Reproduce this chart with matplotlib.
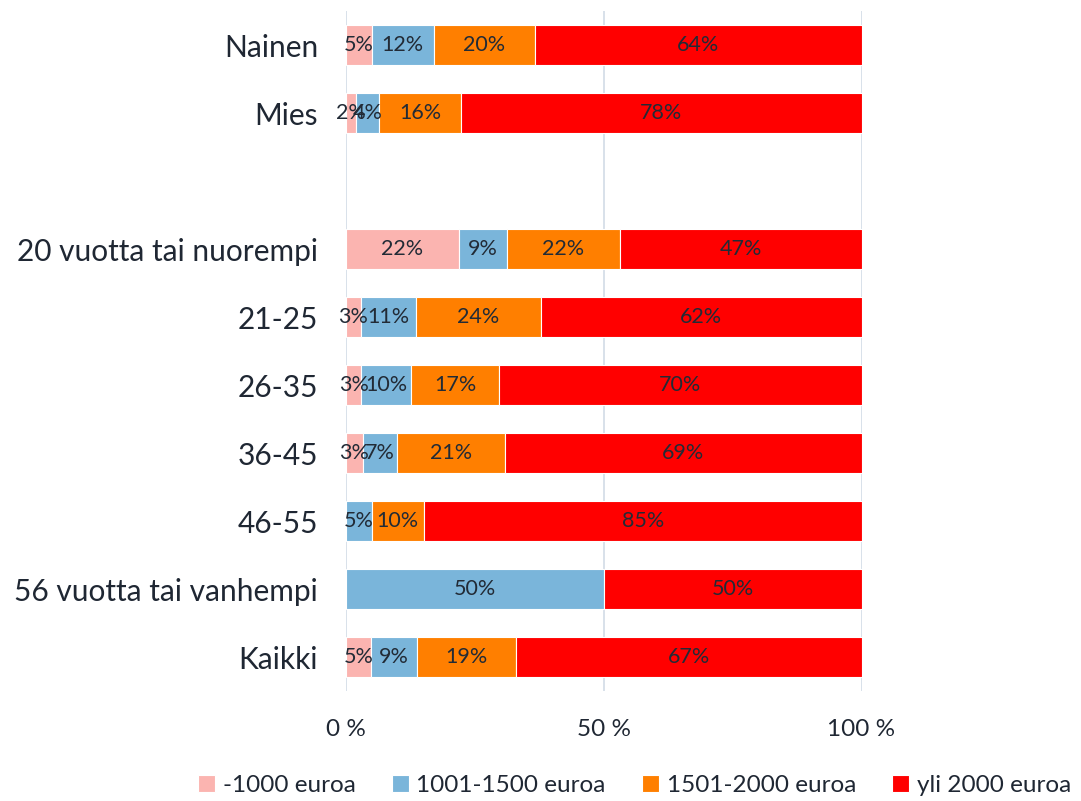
import matplotlib
matplotlib.use("Agg")
from matplotlib import pyplot as plt
import numpy as np

plt.rcParams['font.family'] = ['Lato', 'DejaVu Sans']

categories = ["Nainen", "Mies", "", "20 vuotta tai nuorempi", "21-25", "26-35",
              "36-45", "46-55", "56 vuotta tai vanhempi", "Kaikki"]
series = ["-1000 euroa", "1001-1500 euroa", "1501-2000 euroa", "yli 2000 euroa"]
colors = ["#fbb4b0", "#7ab5da", "#ff7f00", "#ff0000"]

# osuudet (%)
v_1000 = [5.0, 2.0, 0, 21.9, 2.9, 3.0, 3.3, 0, 0, 4.8]
v_1500 = [12.0, 4.4, 0, 9.3, 10.7, 9.7, 6.6, 5.0, 50.0, 9.0]
v_2000 = [19.6, 15.9, 0, 21.9, 24.2, 16.9, 20.9, 10.1, 0, 19.1]
v_yli = [63.4, 77.7, 0, 46.9, 62.2, 70.4, 69.2, 84.9, 50.0, 67.1]
labels = [
    ["5%", "2%", "", "22%", "3%", "3%", "3%", "", "", "5%"],
    ["12%", "4%", "", "9%", "11%", "10%", "7%", "5%", "50%", "9%"],
    ["20%", "16%", "", "22%", "24%", "17%", "21%", "10%", "", "19%"],
    ["64%", "78%", "", "47%", "62%", "70%", "69%", "85%", "50%", "67%"],
]

data = [v_1000, v_1500, v_2000, v_yli]

fig = plt.figure(figsize=(10.81, 8.01), dpi=100)
ax = fig.add_axes([0.320, 0.137, 0.477, 0.849])

y = np.arange(len(categories))
left = np.zeros(len(categories))
for vals, lab, col, name in zip(data, labels, colors, series):
    vals = np.array(vals)
    lw = [0.8 if v > 0 else 0 for v in vals]
    bars = ax.barh(y, vals, left=left, height=0.59, color=col, label=name,
                   edgecolor="white", linewidth=lw, zorder=3)
    for b, t in zip(bars, lab):
        if t:
            ax.text(b.get_x() + b.get_width() / 2, b.get_y() + b.get_height() / 2, t,
                    ha="center", va="center", fontsize=15.5, color="#222b36", zorder=4)
    left += vals

ax.set_xlim(0, 100)
ax.set_ylim(len(categories) - 0.5, -0.5)
ax.set_yticks(y)
ax.set_yticklabels(categories, fontsize=21.5, color="#1f2733")
ax.set_xticks([0, 50, 100])
ax.set_xticklabels(["0 %", "50 %", "100 %"], fontsize=17.5, color="#1f2733")
ax.tick_params(axis="both", length=0)
ax.tick_params(axis="x", pad=20)
ax.tick_params(axis="y", pad=20)
for s in ax.spines.values():
    s.set_visible(False)
ax.grid(axis="x", color="#d5dee8", linewidth=1.3, zorder=0)
ax.set_axisbelow(True)

ax.legend(loc="center", bbox_to_anchor=(0.56, -0.138), ncol=4, frameon=False,
          fontsize=17.5, handlelength=0.7, handleheight=0.7, handletextpad=0.3,
          columnspacing=1.5, labelcolor="#1f2733")

fig.savefig("out.png", dpi=100)
